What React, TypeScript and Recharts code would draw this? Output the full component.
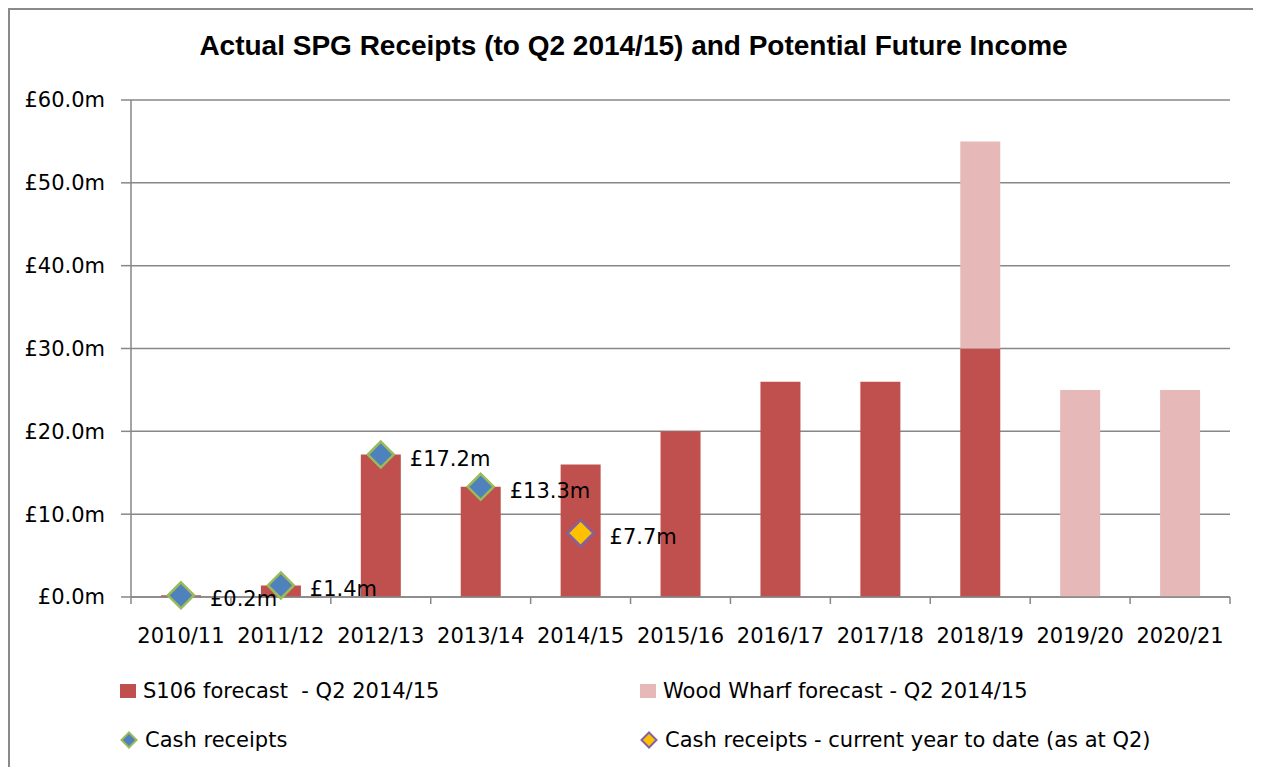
import React from "react";
import {
  ComposedChart,
  Bar,
  Line,
  XAxis,
  YAxis,
  CartesianGrid,
  LabelList,
} from "recharts";

const YEARS = [
  "2010/11", "2011/12", "2012/13", "2013/14", "2014/15", "2015/16",
  "2016/17", "2017/18", "2018/19", "2019/20", "2020/21",
];
const S106_FORECAST = [0.2, 1.4, 17.2, 13.3, 16, 20, 26, 26, 30, null, null];
const WOOD_WHARF = [null, null, null, null, null, null, null, null, 25, 25, 25];
const CASH_RECEIPTS = [0.2, 1.4, 17.2, 13.3, null, null, null, null, null, null, null];
const CASH_YTD = [null, null, null, null, 7.7, null, null, null, null, null, null];
const Y_TICKS = [0, 10, 20, 30, 40, 50, 60];

const S106_RED = "#C0504D";
const WW_PINK = "#E6B9B8";
const CASH_FILL = "#4F81BD";
const CASH_EDGE = "#9BBB59";
const YTD_FILL = "#FFC000";
const YTD_EDGE = "#8064A2";
const GRID = "#878787";
const FONT = "'DejaVu Sans', sans-serif";
const TEXT_SIZE = 21;

const data = YEARS.map((year, i) => ({
  year,
  s106: S106_FORECAST[i],
  ww: WOOD_WHARF[i],
  cash: CASH_RECEIPTS[i],
  ytd: CASH_YTD[i],
}));

const money = (v: number) => `£${v.toFixed(1)}m`;

function diamond(fill: string, edge: string) {
  return (props: any) => {
    const { cx, cy, value, index } = props;
    if (value == null || cx == null || cy == null) return <g key={index} />;
    const r = 13;
    return (
      <polygon
        key={index}
        points={`${cx},${cy - r} ${cx + r},${cy} ${cx},${cy + r} ${cx - r},${cy}`}
        fill={fill}
        stroke={edge}
        strokeWidth={2.5}
      />
    );
  };
}

function ValueLabel(props: any) {
  const { x, y, value } = props;
  if (value == null) return null;
  return (
    <text x={x + 29} y={y + 4} dominantBaseline="central" fontFamily={FONT} fontSize={TEXT_SIZE} fill="#000">
      {money(value)}
    </text>
  );
}

function YearTick(props: any) {
  const { x, y, payload, index } = props;
  const half = payload?.offset || 50;
  return (
    <g>
      <line x1={x - half} x2={x - half} y1={y} y2={y + 7} stroke={GRID} strokeWidth={1.5} />
      {index === YEARS.length - 1 && (
        <line x1={x + half} x2={x + half} y1={y} y2={y + 7} stroke={GRID} strokeWidth={1.5} />
      )}
      <text x={x} y={y + 46} textAnchor="middle" fontFamily={FONT} fontSize={TEXT_SIZE} fill="#000">
        {payload.value}
      </text>
    </g>
  );
}

function LegendIcon({ kind }: { kind: string }) {
  if (kind === "s106") return <svg width={16} height={16}><rect x={0} y={1} width={16} height={14} fill={S106_RED} /></svg>;
  if (kind === "ww") return <svg width={16} height={16}><rect x={0} y={1} width={16} height={14} fill={WW_PINK} /></svg>;
  const fill = kind === "cash" ? CASH_FILL : YTD_FILL;
  const edge = kind === "cash" ? CASH_EDGE : YTD_EDGE;
  return (
    <svg width={18} height={18}>
      <polygon points="9,1.5 16.5,9 9,16.5 1.5,9" fill={fill} stroke={edge} strokeWidth={2} />
    </svg>
  );
}

const LEGEND = [
  { kind: "s106", label: "S106 forecast  - Q2 2014/15", left: 110, top: 669 },
  { kind: "ww", label: "Wood Wharf forecast - Q2 2014/15", left: 630, top: 669 },
  { kind: "cash", label: "Cash receipts", left: 110, top: 718 },
  { kind: "ytd", label: "Cash receipts - current year to date (as at Q2)", left: 630, top: 718 },
];

export default function App() {
  return (
    <div
      style={{
        position: "relative",
        width: 1251,
        height: 780,
        border: "2px solid #8a8a8a",
        boxSizing: "border-box",
        background: "#fff",
        fontFamily: FONT,
      }}
    >
      <style>{`html, body { overflow: hidden; }`}</style>
      <div
        style={{
          position: "absolute",
          left: 0,
          right: 0,
          top: 20,
          textAlign: "center",
          fontFamily: "'Liberation Sans', Arial, sans-serif",
          fontWeight: "bold",
          fontSize: 28,
          color: "#000",
        }}
      >
        Actual SPG Receipts (to Q2 2014/15) and Potential Future Income
      </div>

      <div style={{ position: "absolute", left: 0, top: 0 }}>
        <ComposedChart
          width={1240}
          height={757}
          data={data}
          margin={{ top: 90, right: 20, bottom: 110, left: 0 }}
          barCategoryGap={0}
        >
          <CartesianGrid horizontal vertical={false} stroke={GRID} strokeWidth={1.5} />
          <XAxis
            dataKey="year"
            height={60}
            axisLine={{ stroke: GRID, strokeWidth: 1.5 }}
            tickLine={false}
            tickSize={0}
            tickMargin={0}
            tick={<YearTick />}
            interval={0}
          />
          <YAxis
            width={121}
            domain={[0, 60]}
            ticks={Y_TICKS}
            tickFormatter={money}
            axisLine={{ stroke: GRID, strokeWidth: 1.5 }}
            tickLine={{ stroke: GRID, strokeWidth: 1.5 }}
            tickSize={10}
            tickMargin={16}
            tick={{ fontFamily: FONT, fontSize: TEXT_SIZE, fill: "#000" }}
          />
          <Bar dataKey="s106" stackId="a" fill={S106_RED} barSize={40} isAnimationActive={false} />
          <Bar dataKey="ww" stackId="a" fill={WW_PINK} barSize={40} isAnimationActive={false} />
          <Line
            dataKey="cash"
            stroke="none"
            dot={diamond(CASH_FILL, CASH_EDGE)}
            activeDot={false}
            isAnimationActive={false}
          >
            <LabelList dataKey="cash" content={<ValueLabel />} />
          </Line>
          <Line
            dataKey="ytd"
            stroke="none"
            dot={diamond(YTD_FILL, YTD_EDGE)}
            activeDot={false}
            isAnimationActive={false}
          >
            <LabelList dataKey="ytd" content={<ValueLabel />} />
          </Line>
        </ComposedChart>
      </div>

      {LEGEND.map((item) => (
        <div
          key={item.kind}
          style={{
            position: "absolute",
            left: item.left,
            top: item.top,
            display: "flex",
            alignItems: "center",
            gap: 7,
            fontSize: TEXT_SIZE,
            color: "#000",
            whiteSpace: "pre",
            lineHeight: "24px",
          }}
        >
          <LegendIcon kind={item.kind} />
          <span>{item.label}</span>
        </div>
      ))}
    </div>
  );
}
